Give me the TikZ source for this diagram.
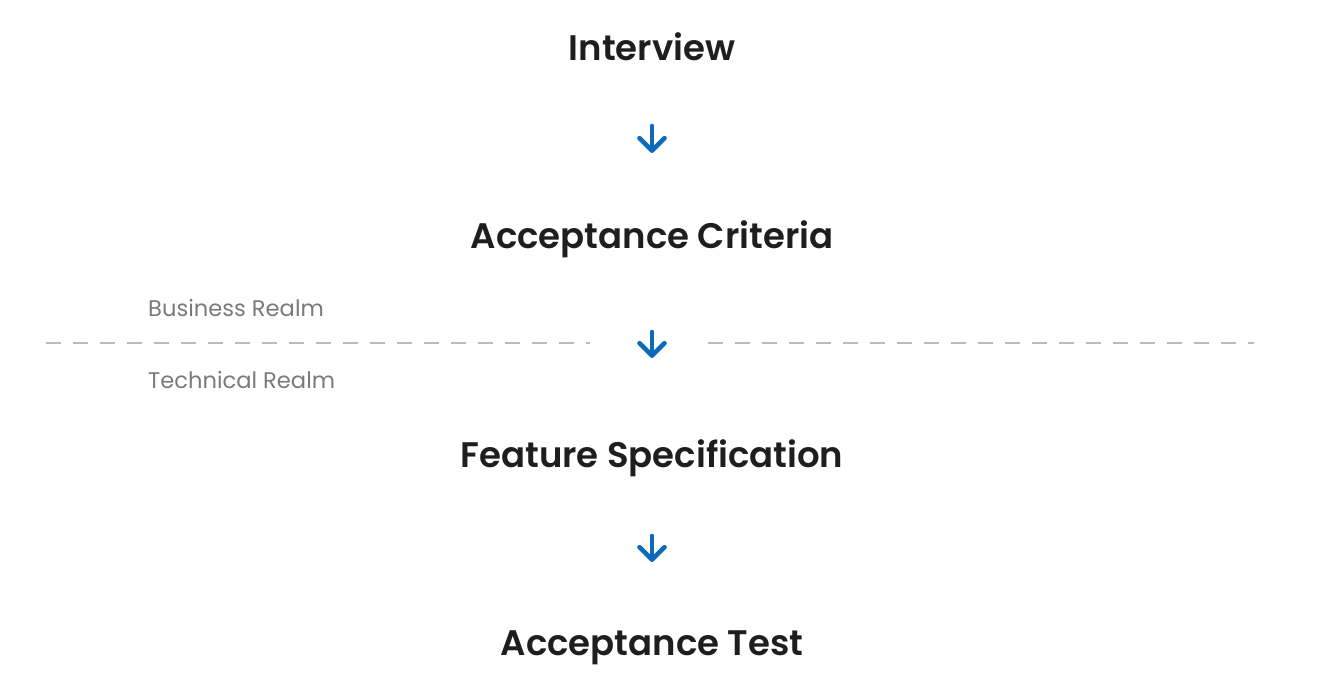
\documentclass[tikz,border=0pt]{standalone}
\usepackage{fontspec}
\setmainfont{Poppins}
\newfontfamily\titlefont{Poppins SemiBold}
\usetikzlibrary{arrows.meta}
\definecolor{arrowblue}{HTML}{0B6BBA}
\definecolor{dashgray}{HTML}{BBBBBB}
\definecolor{labelgray}{HTML}{7A7A7A}
\definecolor{titleblack}{HTML}{1E1E1E}
\tikzset{
  x=1pt,y=-1pt,
  title/.style={font=\fontsize{35.5}{40}\selectfont\titlefont, text=titleblack, inner sep=0pt, anchor=center},
  realm/.style={font=\fontsize{22.6}{26}\selectfont, text=labelgray, inner sep=0pt, anchor=west},
  flowarrow/.style={draw=arrowblue, line width=4.6pt, line cap=round,
    -{Straight Barb[length=12.5pt,width=25pt,line cap=round,line join=round]}},
  realmline/.style={draw=dashgray, line width=1.5pt, dash pattern=on 15pt off 12pt}
}
\begin{document}
\begin{tikzpicture}
\useasboundingbox (0,0) rectangle (1320,700);
\node[title] (interview) at (652,47) {Interview};
\node[title] (criteria) at (652,239) {Acceptance Criteria};
\node[title] (spec) at (652,458) {Feature Specification};
\node[title] (test) at (652,648) {Acceptance Test};
\node[realm] (business) at (148,308) {Business Realm};
\node[realm] (technical) at (148,380) {Technical Realm};
\coordinate (a1s) at (652,126);
\coordinate (a1e) at (652,153);
\coordinate (a2s) at (652,332);
\coordinate (a2e) at (652,358);
\coordinate (a3s) at (652,536);
\coordinate (a3e) at (652,562);
\draw[flowarrow] (a1s) -- (a1e);
\draw[flowarrow] (a2s) -- (a2e);
\draw[flowarrow] (a3s) -- (a3e);
\coordinate (l1s) at (46,343);
\coordinate (l1e) at (590,343);
\coordinate (l2s) at (708,343);
\coordinate (l2e) at (1254,343);
\draw[realmline] (l1s) -- (l1e);
\draw[realmline] (l2s) -- (l2e);
\end{tikzpicture}
\end{document}
